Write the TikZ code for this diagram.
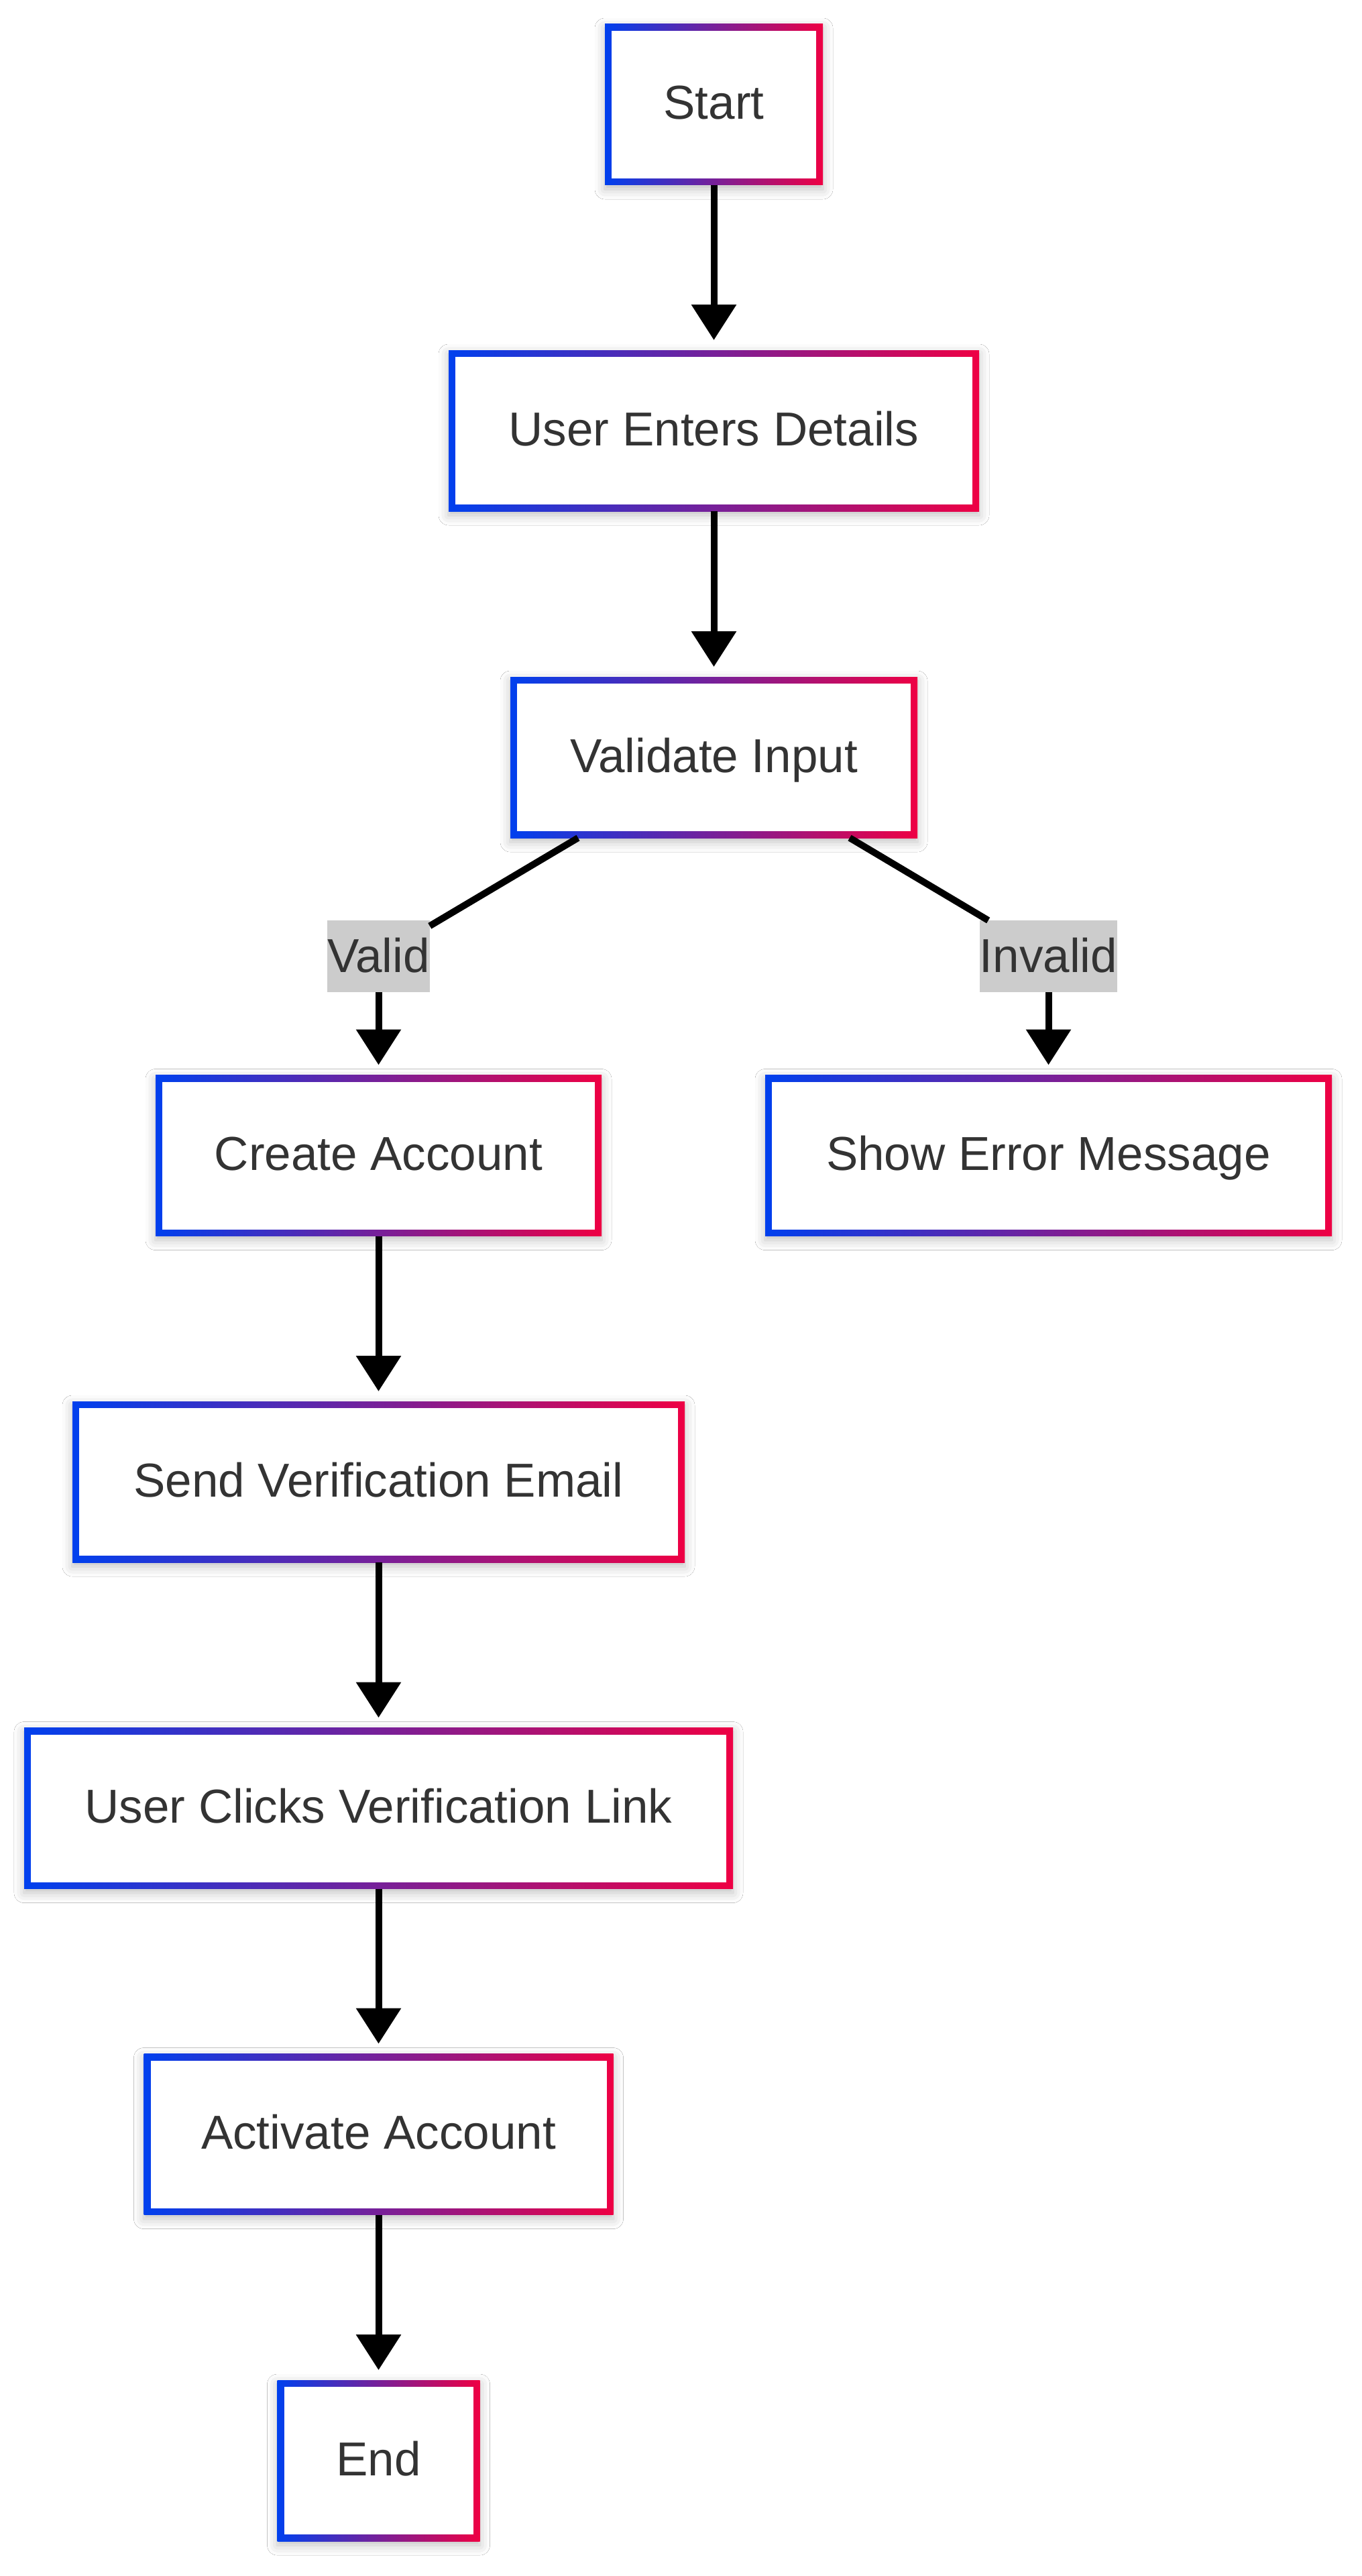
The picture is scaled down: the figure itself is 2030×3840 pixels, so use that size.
\documentclass[tikz,border=0pt]{standalone}
\usepackage{fontspec}
\setmainfont{Liberation Sans}
\usetikzlibrary{arrows.meta,shadows.blur}
\definecolor{gblue}{RGB}{0,64,238}
\definecolor{gred}{RGB}{238,0,68}
\definecolor{txt}{RGB}{51,51,51}
\definecolor{lblbg}{RGB}{204,204,204}
\begin{document}
\begin{tikzpicture}[x=1pt,y=-1pt,
  box/.style={rectangle, minimum height=240pt, inner sep=0pt, outer sep=0pt,
    left color=gblue, right color=gred,
    font=\fontsize{71pt}{85pt}\selectfont, text=txt,
    text height=52pt, text depth=8pt,
    blur shadow={shadow xshift=0pt, shadow yshift=-6pt, shadow blur radius=15pt, shadow opacity=25},
    path picture={\fill[white] ([xshift=10pt,yshift=-10pt]path picture bounding box.north west)
       rectangle ([xshift=-10pt,yshift=10pt]path picture bounding box.south east);}},
  elabel/.style={rectangle, fill=lblbg, inner sep=0pt, outer sep=0pt,
    font=\fontsize{71pt}{85pt}\selectfont, text=txt,
    text height=77pt, text depth=30pt},
  arr/.style={line width=10pt, -{Triangle[length=53pt,width=65pt]}, shorten >=15pt},
  link/.style={line width=10pt}
]
\useasboundingbox (0,0) rectangle (2030,3840);
\fill[white] (0,0) rectangle (2030,3840);

\node[box, minimum width=325pt] (start) at (1064.5,156) {Start};
\node[box, minimum width=791pt] (ued) at (1064.5,642) {User Enters Details};
\node[box, minimum width=607pt] (val) at (1064.5,1129) {Validate Input};
\node[box, minimum width=665pt] (create) at (564.5,1722.5) {Create Account};
\node[box, minimum width=845pt] (err) at (1563.5,1722.5) {Show Error Message};
\node[box, minimum width=913pt] (send) at (564.5,2209) {Send Verification Email};
\node[box, minimum width=1057pt] (clicks) at (564.5,2695.5) {User Clicks Verification Link};
\node[box, minimum width=700pt] (act) at (564.5,3181.5) {Activate Account};
\node[box, minimum width=302pt] (end) at (564.5,3668) {End};

\node[elabel] (lv) at (564.5,1425.5) {Valid};
\node[elabel] (li) at (1563.5,1425.5) {Invalid};

\draw[arr] (start) -- (ued);
\draw[arr] (ued) -- (val);
\draw[link] ([xshift=-202.5pt]val.south) -- (lv);
\draw[arr] (lv) -- (create);
\draw[link] ([xshift=202.5pt]val.south) -- (li);
\draw[arr] (li) -- (err);
\draw[arr] (create) -- (send);
\draw[arr] (send) -- (clicks);
\draw[arr] (clicks) -- (act);
\draw[arr] (act) -- (end);
\end{tikzpicture}
\end{document}
